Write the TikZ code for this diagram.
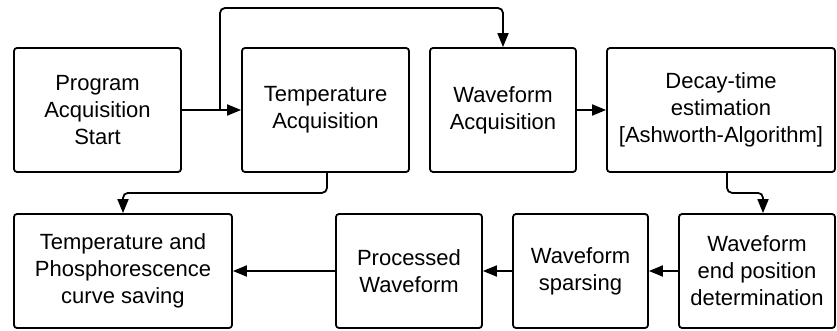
\documentclass[tikz,border=0pt]{standalone}
\usepackage{fontspec}
\setmainfont{Liberation Sans}
\usetikzlibrary{arrows.meta}
\begin{document}
\begin{tikzpicture}[x=1pt, y=-1pt,
    box/.style={draw, line width=1.8pt, rounded corners=3pt, align=center, inner sep=0pt,
        font=\fontsize{22}{27}\selectfont},
    flow/.style={line width=1.8pt, -{Triangle[length=14pt, width=11pt]}}]
    \useasboundingbox (0,0) rectangle (837,331);

    % Draw the top row
    \node[box, minimum width=167pt, minimum height=124pt] (start) at (97.5,110) {Program\\Acquisition\\Start};
    \node[box, minimum width=167pt, minimum height=124pt] (tempacq) at (325.5,110) {Temperature\\Acquisition};
    \node[box, minimum width=146pt, minimum height=124pt] (waveacq) at (503,110) {Waveform\\Acquisition};
    \node[box, minimum width=228pt, minimum height=124pt] (decay) at (721,110) {Decay-time\\estimation\\{[Ashworth-Algorithm]}};

    % Draw the bottom row
    \node[box, minimum width=218pt, minimum height=114pt] (saving) at (123,271) {Temperature and\\Phosphorescence\\curve saving};
    \node[box, minimum width=146pt, minimum height=114pt] (processed) at (409,271) {Processed\\Waveform};
    \node[box, minimum width=135pt, minimum height=114pt] (sparsing) at (580.5,271) {Waveform\\sparsing};
    \node[box, minimum width=156pt, minimum height=114pt] (endpos) at (757,271) {Waveform\\end position\\determination};

    % Draw the arrows of the top row
    \draw[flow] (start) -- (tempacq);
    \draw[flow] (waveacq) -- (decay);
    \coordinate (split) at (220,110);
    \draw[flow, rounded corners=5pt] (split) -- (220,8) -| (waveacq.north);

    % Draw the arrows between the rows
    \draw[flow, rounded corners=5pt] ([xshift=1.5pt]tempacq.south) -- ++(0,20) -| (saving.north);
    \draw[flow, rounded corners=5pt] ([xshift=6pt]decay.south) -- ++(0,20) -| ([xshift=6pt]endpos.north);

    % Draw the arrows of the bottom row
    \foreach \a/\b in {endpos/sparsing, sparsing/processed, processed/saving} {
        \draw[flow] (\a) -- (\b);
    }
\end{tikzpicture}
\end{document}
